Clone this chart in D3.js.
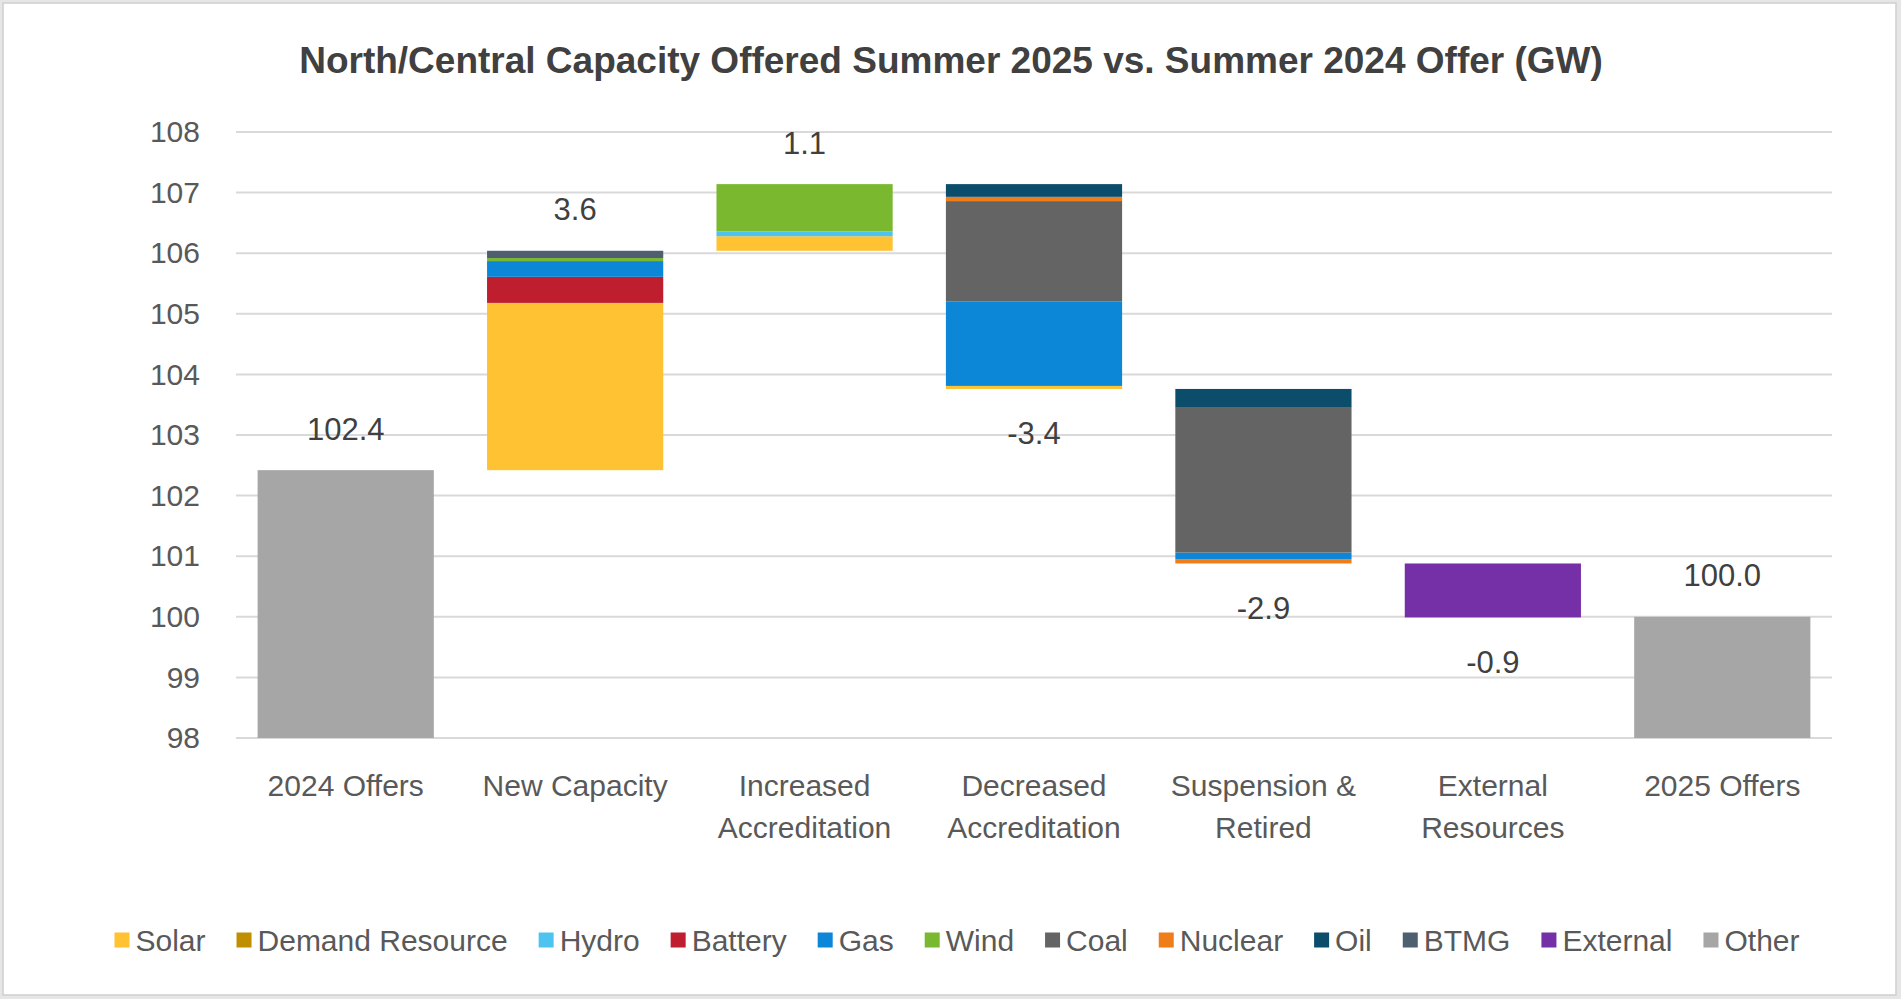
<!DOCTYPE html>
<html>
<head>
<meta charset="utf-8">
<script src="https://cdn.jsdelivr.net/npm/d3@7"></script>
<style>
  html, body { margin: 0; padding: 0; background: #ffffff; }
  svg { display: block; }
  text { font-family: "Liberation Sans", Arial, sans-serif; }
</style>
</head>
<body>
<svg id="chart" width="1901" height="999"></svg>
<script>
// ---------- data ----------
const chartTitle = "North/Central Capacity Offered Summer 2025 vs. Summer  2024 Offer (GW)";
const categories = ["2024 Offers", "New Capacity", "Increased\nAccreditation", "Decreased\nAccreditation", "Suspension &\nRetired", "External\nResources", "2025 Offers"];
const barKinds = ["total", "up", "up", "down", "down", "down", "total"];

const seriesNames  = ["Solar", "Demand Resource", "Hydro", "Battery", "Gas", "Wind", "Coal", "Nuclear", "Oil", "BTMG", "External", "Other"];
const seriesColors = ["#FEC232", "#BF8F00", "#4EC3F0", "#BE1E2D", "#0C87D8", "#7AB82F", "#646464", "#EE7D1A", "#0D4D6C", "#4E6070", "#7530A8", "#A6A6A6"];

// values per category (GW)
const solar          = [0, 2.76, 0.24, 0.05, 0,    0,    0];
const demandResource = [0, 0,    0,    0,    0,    0,    0];
const hydro          = [0, 0,    0.08, 0,    0,    0,    0];
const battery        = [0, 0.43, 0,    0,    0,    0,    0];
const gas            = [0, 0.26, 0,    1.39, 0.11, 0,    0];
const wind           = [0, 0.05, 0.78, 0,    0,    0,    0];
const coal           = [0, 0,    0,    1.66, 2.39, 0,    0];
const nuclear        = [0, 0,    0,    0.07, 0.07, 0,    0];
const oil            = [0, 0,    0,    0.21, 0.31, 0,    0];
const btmg           = [0, 0.12, 0,    0,    0,    0,    0];
const external       = [0, 0,    0,    0,    0,    0.89, 0];
const other          = [102.42, 0, 0,  0,    0,    0,    100.0];
const seriesValues = [solar, demandResource, hydro, battery, gas, wind, coal, nuclear, oil, btmg, external, other];

// bottom-to-top stacking order inside each bar
const legendOrder = seriesNames;
const stackOrders = [legendOrder, legendOrder, legendOrder, legendOrder,
  ["Nuclear", "Demand Resource", "Solar", "Hydro", "Battery", "Gas", "Wind", "Coal", "Oil", "BTMG", "External", "Other"],
  legendOrder, legendOrder];

const yTicks = [98, 99, 100, 101, 102, 103, 104, 105, 106, 107, 108];
const yDomain = [98, 108];

// ---------- layout ----------
const W = 1901, H = 999;
const plot = { left: 231, right: 1837, top: 132, bottom: 738 };
const svg = d3.select("#chart");

svg.append("rect").attr("x", 0).attr("y", 0).attr("width", W).attr("height", H).attr("fill", "#e6e6e6");
svg.append("rect").attr("x", 3).attr("y", 3).attr("width", W - 8).attr("height", H - 7)
  .attr("fill", "#ffffff").attr("stroke", "#cfcfcf").attr("stroke-width", 1.5);

const x = d3.scaleBand().domain(categories).range([plot.left, plot.right]).paddingInner(0.232).paddingOuter(0.116);
const y = d3.scaleLinear().domain(yDomain).range([plot.bottom, plot.top]);

// title
svg.append("text").attr("x", 951).attr("y", 60).attr("text-anchor", "middle").attr("dominant-baseline", "central")
  .attr("font-size", 37).attr("font-weight", "bold").attr("fill", "#404040").text(chartTitle);

// gridlines
svg.append("g").selectAll("line").data(yTicks).join("line")
  .attr("x1", 236).attr("x2", 1832)
  .attr("y1", d => y(d)).attr("y2", d => y(d))
  .attr("stroke", "#d9d9d9").attr("stroke-width", 2);

// y axis (labels only)
const yAxis = d3.axisLeft(y).tickValues(yTicks).tickSize(0).tickPadding(0).tickFormat(d3.format("d"));
const yg = svg.append("g").attr("transform", "translate(200,0)").call(yAxis);
yg.select(".domain").remove();
yg.selectAll("text").attr("font-size", 30).attr("fill", "#595959").attr("font-family", "Liberation Sans, Arial, sans-serif");

// x axis labels
const xg = svg.append("g");
categories.forEach(c => {
  const lines = c.split("\n");
  const t = xg.append("text").attr("x", x(c) + x.bandwidth() / 2).attr("y", 785)
    .attr("text-anchor", "middle").attr("font-size", 30).attr("fill", "#595959");
  lines.forEach((ln, i) => {
    t.append("tspan").attr("x", x(c) + x.bandwidth() / 2).attr("dy", i === 0 ? "0.35em" : 42.5).text(ln);
  });
});

// compute waterfall segments
const segments = [];
const labels = [];
let running = 0;
categories.forEach((c, ci) => {
  const kind = barKinds[ci];
  const vals = {};
  seriesNames.forEach((s, si) => vals[s] = seriesValues[si][ci]);
  const total = d3.sum(seriesNames, s => vals[s]);
  let base;
  if (kind === "total") { base = yDomain[0]; running = total; }
  else if (kind === "up") { base = running; running = running + total; }
  else { running = running - total; base = running; }
  let cur = base;
  stackOrders[ci].forEach(s => {
    const v = vals[s];
    if (!v) return;
    const from = (kind === "total") ? yDomain[0] : cur;
    const to = (kind === "total") ? v : cur + v;
    segments.push({ cat: c, series: s, y0: from, y1: to });
    cur = to;
  });
  const topVal = (kind === "total") ? total : (kind === "up" ? running : base + total);
  const botVal = (kind === "down") ? base : null;
  labels.push({
    cat: c,
    text: kind === "down" ? "-" + total.toFixed(1) : total.toFixed(1),
    yPix: kind === "down" ? y(botVal) + 45 : y(topVal) - 41
  });
});

const colorOf = d3.scaleOrdinal().domain(seriesNames).range(seriesColors);

svg.append("g").selectAll("rect").data(segments).join("rect")
  .attr("x", d => x(d.cat))
  .attr("width", x.bandwidth())
  .attr("y", d => y(d.y1))
  .attr("height", d => y(d.y0) - y(d.y1))
  .attr("fill", d => colorOf(d.series));

// data labels
svg.append("g").selectAll("text").data(labels).join("text")
  .attr("x", d => x(d.cat) + x.bandwidth() / 2)
  .attr("y", d => d.yPix)
  .attr("text-anchor", "middle").attr("dominant-baseline", "central")
  .attr("font-size", 31).attr("fill", "#404040")
  .text(d => d.text);

// legend
const legend = svg.append("g");
const sw = 15, swGap = 6;
const items = seriesNames.map((s, i) => {
  const g = legend.append("g");
  g.append("rect").attr("width", sw).attr("height", sw).attr("y", -sw / 2).attr("fill", seriesColors[i]);
  const t = g.append("text").attr("x", sw + swGap).attr("y", 0).attr("dominant-baseline", "central")
    .attr("font-size", 30).attr("fill", "#595959").text(s);
  return { g, w: sw + swGap + t.node().getComputedTextLength() };
});
const targetW = 1685;
const sumW = d3.sum(items, d => d.w);
const gap = Math.max(10, (targetW - sumW) / (items.length - 1));
const totalW = sumW + gap * (items.length - 1);
let lx = 957 - totalW / 2;
items.forEach(it => { it.g.attr("transform", `translate(${lx},940)`); lx += it.w + gap; });
</script>
</body>
</html>
